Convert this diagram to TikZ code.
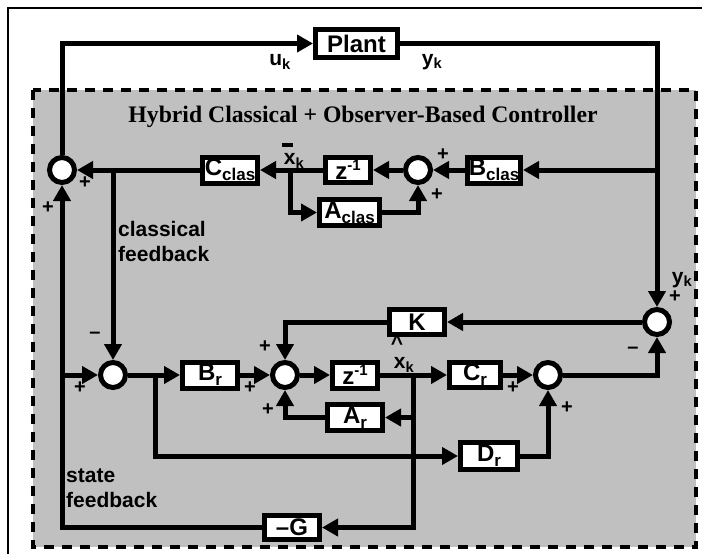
\documentclass[tikz,border=0pt]{standalone}
\usepackage{fontspec}
\setmainfont{Liberation Sans}
\newfontfamily\titlefont{Liberation Serif}
\usetikzlibrary{arrows.meta}
\definecolor{ctrlgray}{HTML}{C0C0C0}
\newcommand{\lsub}[1]{\raisebox{-5pt}{\fontsize{17}{17}\selectfont #1}}
\newcommand{\lsup}[1]{\raisebox{9pt}{\fontsize{15}{15}\selectfont #1}}
\begin{document}
\begin{tikzpicture}[x=1pt,y=-1pt,
  wire/.style={line width=5pt},
  arr/.style={wire,-{Triangle[length=16pt,width=17pt]}},
  blk/.style={draw,line width=5pt,fill=white,inner sep=0pt,font=\fontsize{24}{24}\selectfont\bfseries},
  sumc/.style={draw,circle,line width=5pt,fill=white,minimum size=25pt,inner sep=0pt},
  sgn/.style={font=\fontsize{20}{20}\selectfont\bfseries,inner sep=0pt},
  lbl/.style={font=\fontsize{21}{25}\selectfont\bfseries,inner sep=0pt,align=left},
]
\useasboundingbox (0,0) rectangle (702,554);
\draw[line width=1.5pt] (8,8) rectangle (720,570);
\draw[fill=ctrlgray,dash pattern=on 10pt off 8pt,line width=3.5pt] (33,90) rectangle (696,547);

\node[font=\titlefont\bfseries\fontsize{23.7}{24}\selectfont,inner sep=0pt] (title) at (363,117) {Hybrid Classical + Observer-Based Controller};

% nodes
\node[blk,minimum width=82pt,minimum height=28pt] (plant) at (356.5,43.5) {Plant};
\node[sumc] (s1) at (62,170) {};
\node[blk,minimum width=55pt,minimum height=26pt] (cclas) at (230,170) {C\lsub{clas}};
\node[blk,minimum width=45pt,minimum height=25pt] (z1) at (348,170) {z\lsup{-1}};
\node[sumc] (s2) at (418,170) {};
\node[blk,minimum width=53pt,minimum height=26pt] (bclas) at (494,170) {B\lsub{clas}};
\node[blk,minimum width=60pt,minimum height=26pt] (aclas) at (349.5,212.5) {A\lsub{clas}};
\coordinate (jx) at (290,170);
\coordinate (jy) at (657,170);
\coordinate (jc) at (113,170);

\node[sumc] (sy) at (657,322) {};
\node[blk,minimum width=55pt,minimum height=25pt] (K) at (417,322) {K};
\node[sumc] (s5) at (113,375) {};
\node[blk,minimum width=55pt,minimum height=26pt] (br) at (210,375) {B\lsub{r}};
\node[sumc] (s4) at (285,375) {};
\node[blk,minimum width=45pt,minimum height=26pt] (z2) at (355,375) {z\lsup{-1}};
\node[blk,minimum width=51pt,minimum height=25pt] (cr) at (475,375) {C\lsub{r}};
\node[sumc] (s3) at (548,375) {};
\node[blk,minimum width=55pt,minimum height=26pt] (ar) at (355,417.5) {A\lsub{r}};
\node[blk,minimum width=57pt,minimum height=27pt] (dr) at (489,456) {D\lsub{r}};
\node[blk,minimum width=55pt,minimum height=24pt] (g) at (292,527.5) {\textendash G};
\coordinate (jh) at (413,375);
\coordinate (jb) at (155,375);

% wires
\draw[arr] (s1.north) |- (plant.west);
\draw[arr] (plant.east) -| (sy.north);
\draw[arr] (jy) -- (bclas.east);
\draw[arr] (bclas) -- (s2);
\draw[arr] (s2) -- (z1);
\draw[arr] (z1) -- (cclas);
\draw[arr] (cclas) -- (s1);
\draw[arr] (jx) |- (aclas.west);
\draw[arr] (aclas.east) -| (s2.south);
\draw[arr] (jc) -- (s5.north);
\draw[arr] (g.west) -| (s1.south);
\draw[arr] (s1.south |- s5.west) -- (s5.west);
\draw[arr] (s5) -- (br);
\draw[arr] (jb) |- (dr.west);
\draw[arr] (br) -- (s4);
\draw[arr] (s4) -- (z2);
\draw[arr] (z2) -- (cr);
\draw[arr] (cr) -- (s3);
\draw[arr] (s3.east) -| (sy.south);
\draw[arr] (sy) -- (K);
\draw[arr] (K.west) -| (s4.north);
\draw[arr] (ar.west) -| (s4.south);
\draw[arr] (jh) |- (ar.east);
\draw[arr] (dr.east) -| (s3.south);
\draw[arr] (jh) |- (g.east);

% labels
\node[lbl] (uk) at (280,62) {u\textsubscript{k}};
\node[lbl] (yk) at (432,62) {y\textsubscript{k}};
\node[lbl] (yk2) at (682,280) {y\textsubscript{k}};
\node[lbl] (xbk) at (294,161) {x\textsubscript{k}};
\node[inner sep=0pt] (xbar) at (287,145) {\rule{11pt}{4pt}};
\node[lbl] (xhk) at (404,365) {x\textsubscript{k}};
\node[lbl] (xhat) at (397,343) {\textasciicircum};
\node[lbl,anchor=north west] (cf) at (118,221) {classical\\feedback};
\node[lbl,anchor=north west] (sf) at (66,469) {state\\feedback};

% signs
\node[sgn] at (85,183) {+};
\node[sgn] at (48,208) {+};
\node[sgn] at (443,155) {+};
\node[sgn] at (437,195) {+};
\node[sgn] at (95,335) {\textendash};
\node[sgn] at (80,388) {+};
\node[sgn] at (265,347) {+};
\node[sgn] at (250,388) {+};
\node[sgn] at (268,410) {+};
\node[sgn] at (513,388) {+};
\node[sgn] at (567,408) {+};
\node[sgn] at (633,350) {\textendash};
\node[sgn] at (675,297) {+};
\end{tikzpicture}
\end{document}
